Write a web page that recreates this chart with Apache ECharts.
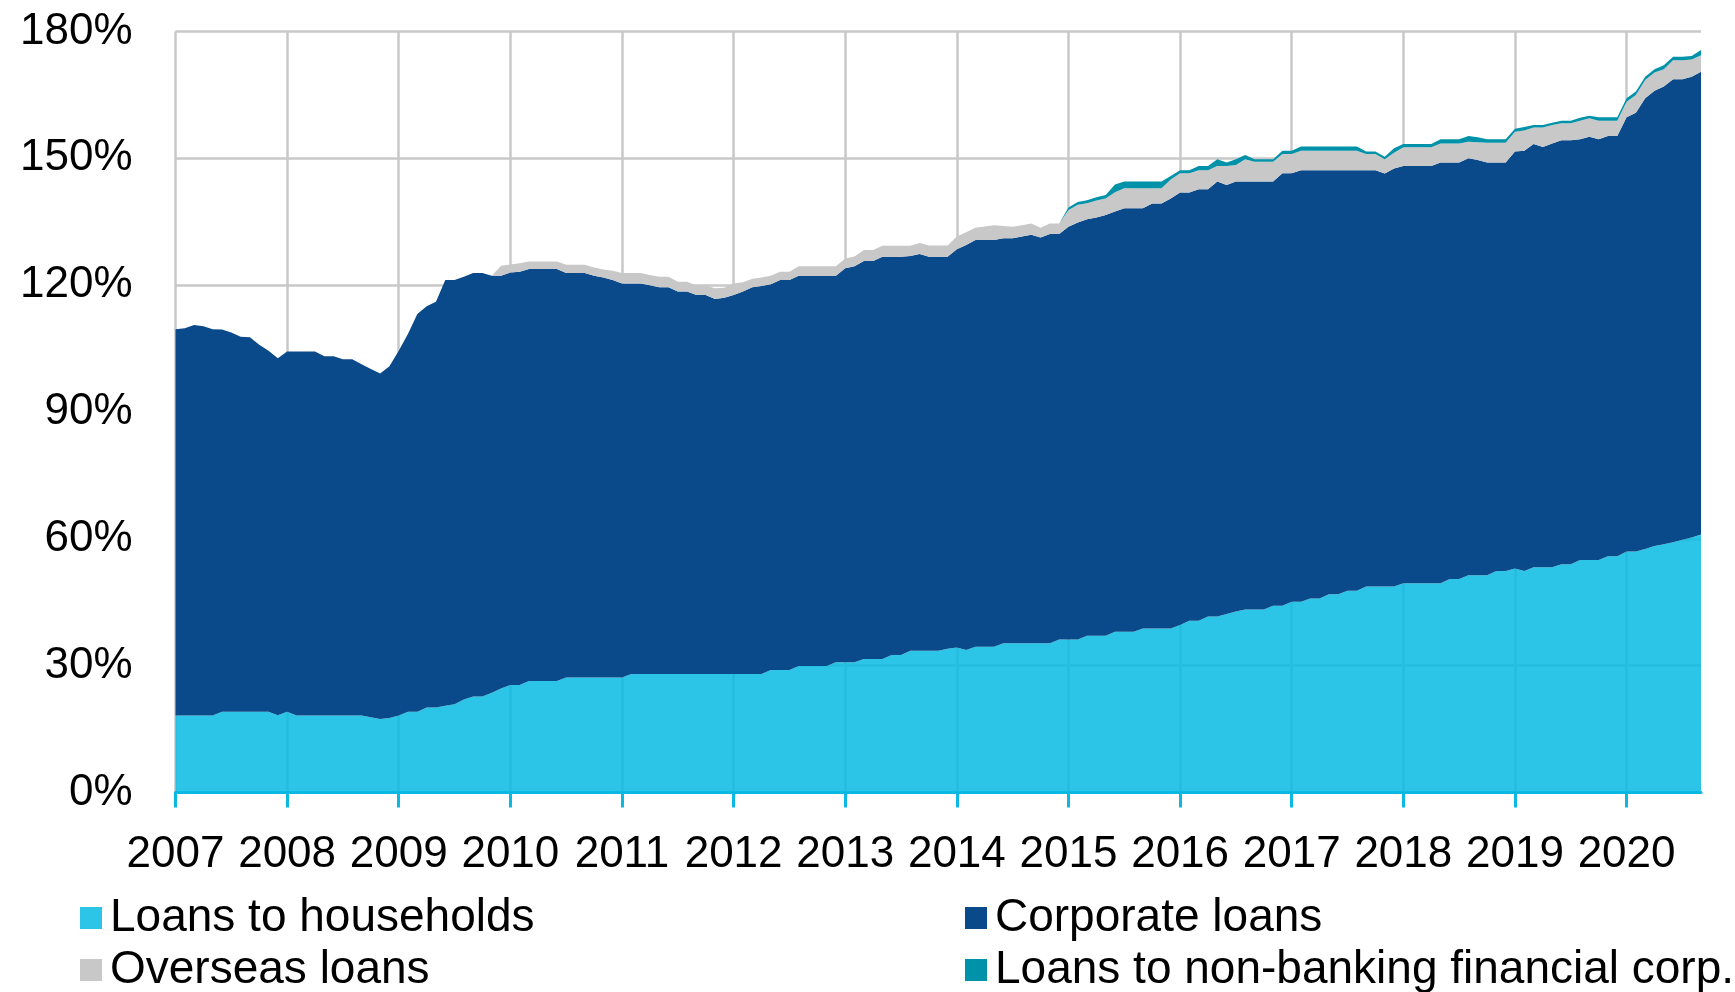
<!DOCTYPE html>
<html>
<head>
<meta charset="utf-8">
<title>Loans</title>
<script src="https://cdn.jsdelivr.net/npm/echarts/dist/echarts.min.js"></script>
<style>
  html, body { margin: 0; padding: 0; background: #fff; }
  #main { width: 1735px; height: 992px; }
</style>
</head>
<body>
<div id="main"></div>
<script>
// monthly values, Jan 2007 - Sep 2020, % of ...
const yearLabels = ['2007', '2008', '2009', '2010', '2011', '2012', '2013', '2014', '2015', '2016', '2017', '2018', '2019', '2020'];
const seriesNames = ['Loans to households', 'Corporate loans', 'Overseas loans', 'Loans to non-banking financial corp.'];

const households = [
  18.2, 18.2, 18.2, 18.2, 18.2, 19.1, 19.1, 19.1, 19.1, 19.1, 19.1, 18.3,
  19.1, 18.2, 18.2, 18.2, 18.2, 18.2, 18.2, 18.2, 18.2, 17.8, 17.4, 17.6,
  18.2, 19.1, 19.1, 20.1, 20.1, 20.5, 20.9, 22.0, 22.7, 22.7, 23.6, 24.6,
  25.4, 25.4, 26.4, 26.4, 26.4, 26.4, 27.2, 27.2, 27.2, 27.2, 27.2, 27.2,
  27.2, 28.0, 28.0, 28.0, 28.0, 28.0, 28.0, 28.0, 28.0, 28.0, 28.0, 28.0,
  28.0, 28.0, 28.0, 28.0, 29.0, 29.0, 29.0, 29.9, 29.9, 29.9, 29.9, 30.8,
  30.8, 30.8, 31.6, 31.6, 31.6, 32.5, 32.5, 33.5, 33.5, 33.5, 33.5, 34.0,
  34.3, 33.7, 34.5, 34.5, 34.5, 35.3, 35.3, 35.3, 35.3, 35.3, 35.3, 36.2,
  36.2, 36.2, 37.1, 37.1, 37.1, 38.0, 38.0, 38.0, 38.8, 38.8, 38.8, 38.8,
  39.6, 40.6, 40.6, 41.6, 41.6, 42.2, 42.8, 43.3, 43.3, 43.3, 44.2, 44.2,
  45.1, 45.1, 45.9, 45.9, 46.9, 46.9, 47.7, 47.7, 48.7, 48.7, 48.7, 48.7,
  49.5, 49.5, 49.5, 49.5, 49.5, 50.5, 50.5, 51.4, 51.4, 51.4, 52.4, 52.4,
  53.0, 52.4, 53.3, 53.3, 53.3, 54.0, 54.0, 55.0, 55.0, 55.0, 55.9, 55.9,
  57.0, 57.0, 57.6, 58.3, 58.7, 59.2, 59.8, 60.3, 61.0
];

const corporate = [
  91.4, 91.6, 92.4, 92.1, 91.4, 90.4, 89.7, 88.7, 88.6, 86.8, 85.4, 84.4,
  85.2, 86.1, 86.1, 86.1, 85.0, 85.0, 84.3, 84.3, 83.1, 82.4, 81.7, 83.2,
  86.3, 89.4, 94.1, 94.9, 96.0, 100.7, 100.3, 100.0, 100.2, 100.2, 98.6, 97.6,
  97.6, 97.8, 97.4, 97.4, 97.4, 97.4, 95.7, 95.7, 95.7, 95.0, 94.6, 94.0,
  93.2, 92.4, 92.4, 92.0, 91.5, 91.5, 90.5, 90.5, 89.7, 89.7, 88.7, 89.0,
  89.7, 90.5, 91.5, 91.8, 91.2, 92.2, 92.2, 92.3, 92.3, 92.3, 92.3, 91.4,
  93.2, 93.7, 94.1, 94.1, 95.1, 94.2, 94.2, 93.4, 93.9, 93.2, 93.2, 92.7,
  94.2, 95.8, 96.2, 96.2, 96.2, 95.8, 95.8, 96.2, 96.6, 96.0, 96.8, 95.9,
  97.6, 98.6, 98.5, 98.9, 99.5, 99.4, 100.2, 100.2, 99.4, 100.5, 100.5, 101.7,
  102.3, 101.3, 102.1, 101.1, 102.9, 101.5, 101.7, 101.2, 101.2, 101.2, 100.3, 102.3,
  101.4, 102.1, 101.3, 101.3, 100.3, 100.3, 99.5, 99.5, 98.5, 98.5, 97.7, 98.9,
  98.7, 98.7, 98.7, 98.7, 99.5, 98.5, 98.5, 98.6, 98.2, 97.6, 96.6, 96.6,
  98.6, 99.4, 100.1, 99.4, 100.2, 100.3, 100.3, 99.5, 100.1, 99.5, 99.4, 99.4,
  102.7, 103.8, 106.6, 107.7, 108.3, 109.5, 108.9, 109.0, 109.5
];

const overseas = [
  0, 0, 0, 0, 0, 0, 0, 0, 0, 0, 0, 0,
  0, 0, 0, 0, 0, 0, 0, 0, 0, 0, 0, 0,
  0, 0, 0, 0, 0, 0, 0, 0, 0, 0, 0, 2.4,
  1.9, 2.0, 1.8, 1.8, 1.8, 1.8, 1.9, 1.9, 1.9, 2.0, 1.9, 2.2,
  2.5, 2.5, 2.5, 2.4, 2.5, 2.5, 2.3, 2.3, 2.2, 2.2, 2.6, 2.4,
  2.7, 2.2, 2.0, 2.0, 2.0, 2.0, 2.0, 2.3, 2.3, 2.3, 2.3, 2.3,
  2.3, 2.3, 2.6, 2.6, 2.6, 2.6, 2.6, 2.4, 2.6, 2.7, 2.7, 2.7,
  3.0, 3.0, 2.9, 3.2, 3.5, 2.9, 2.7, 2.7, 2.7, 2.3, 2.5, 2.5,
  4.0, 4.2, 3.8, 4.0, 3.9, 4.6, 4.7, 4.7, 4.7, 3.6, 3.6, 4.5,
  4.6, 4.6, 4.5, 4.5, 3.7, 4.5, 3.9, 5.3, 4.7, 4.7, 4.7, 4.5,
  4.5, 4.6, 4.6, 4.6, 4.6, 4.6, 4.6, 4.6, 3.8, 3.8, 3.4, 3.7,
  4.4, 4.4, 4.4, 4.4, 4.5, 4.5, 4.5, 3.9, 4.2, 4.7, 4.7, 4.7,
  4.7, 4.8, 3.9, 4.6, 4.4, 4.0, 4.0, 4.4, 4.4, 4.4, 3.6, 3.6,
  3.7, 4.2, 4.3, 4.3, 4.1, 4.5, 4.5, 4.1, 3.9
];

const nonBanking = [
  0, 0, 0, 0, 0, 0, 0, 0, 0, 0, 0, 0,
  0, 0, 0, 0, 0, 0, 0, 0, 0, 0, 0, 0,
  0, 0, 0, 0, 0, 0, 0, 0, 0, 0, 0, 0,
  0, 0, 0, 0, 0, 0, 0, 0, 0, 0, 0, 0,
  0, 0, 0, 0, 0, 0, 0, 0, 0, 0, 0, 0,
  0, 0, 0, 0, 0, 0, 0, 0, 0, 0, 0, 0,
  0, 0, 0, 0, 0, 0, 0, 0, 0, 0, 0, 0,
  0, 0, 0, 0, 0, 0, 0, 0, 0, 0, 0, 0,
  0.6, 0.7, 0.7, 0.8, 0.8, 1.8, 1.6, 1.6, 1.6, 1.6, 1.6, 0.8,
  0.7, 0.7, 1.0, 1.0, 1.6, 0.8, 1.4, 1.0, 0.6, 0.6, 0.6, 0.8,
  0.8, 1.0, 1.0, 1.0, 1.0, 1.0, 1.0, 1.0, 0.6, 0.6, 0.6, 1.1,
  0.8, 0.8, 0.8, 0.8, 1.0, 1.0, 1.0, 1.4, 1.2, 0.8, 0.8, 0.8,
  0.7, 0.8, 0.6, 0.6, 0.5, 0.6, 0.6, 0.7, 0.6, 0.8, 0.8, 0.8,
  0.8, 0.8, 0.8, 0.8, 0.9, 0.8, 0.8, 0.8, 1.2
];

// month categories, one per data point
const months = [];
yearLabels.forEach(function (y) {
  for (let i = 1; i <= 12; i++) months.push(y + '-' + i);
});
months.length = households.length;

const font = '"Liberation Sans", Arial, sans-serif';
const isYearStart = function (idx) { return idx % 12 === 0; };

const chartInstance = echarts.init(document.getElementById('main'));

function legendItem(name, left, top) {
  return {
    data: [name],
    left: left,
    top: top,
    padding: 0,
    icon: 'rect',
    itemWidth: 22,
    itemHeight: 22,
    selectedMode: false,
    textStyle: {
      color: '#000',
      fontSize: 46,
      fontFamily: font,
      lineHeight: 50,
      padding: [0, 0, 0, 3]
    }
  };
}

function areaSeries(name, data, color, fill) {
  return {
    name: name,
    type: 'line',
    stack: 'total',
    data: data,
    symbol: 'none',
    showSymbol: false,
    color: color,
    lineStyle: { width: 0 },
    areaStyle: { color: fill || color, opacity: 1 },
    emphasis: { disabled: true },
    animation: false
  };
}

const option = {
  backgroundColor: '#fff',
  animation: false,
  grid: {
    left: 175.5,
    right: 34,
    top: 31.5,
    bottom: 199.5
  },
  xAxis: {
    type: 'category',
    data: months,
    boundaryGap: false,
    axisLine: { lineStyle: { color: '#0ab8e2', width: 3 } },
    axisTick: {
      interval: isYearStart,
      length: 15,
      lineStyle: { color: '#0ab8e2', width: 3 }
    },
    axisLabel: {
      interval: isYearStart,
      margin: 40,
      color: '#000',
      fontSize: 44,
      fontFamily: font,
      formatter: function (v) { return v.slice(0, 4); }
    },
    splitLine: {
      show: true,
      interval: isYearStart,
      lineStyle: { color: '#c8c8c8', width: 2.5 }
    }
  },
  yAxis: {
    type: 'value',
    min: 0,
    max: 180,
    interval: 30,
    axisLine: { show: false },
    axisTick: { show: false },
    axisLabel: {
      margin: 43,
      color: '#000',
      fontSize: 44,
      fontFamily: font,
      formatter: '{value}%'
    },
    splitLine: { lineStyle: { color: '#c8c8c8', width: 2.5 } }
  },
  legend: [
    legendItem(seriesNames[0], 80, 893),
    legendItem(seriesNames[1], 965, 893),
    legendItem(seriesNames[2], 80, 945),
    legendItem(seriesNames[3], 965, 945)
  ],
  series: [
    areaSeries(seriesNames[0], households, '#2cc5e7', 'rgba(7,187,227,0.85)'),
    areaSeries(seriesNames[1], corporate, '#0b4a8a'),
    areaSeries(seriesNames[2], overseas, '#c8c8c8'),
    areaSeries(seriesNames[3], nonBanking, '#0092a8')
  ]
};

chartInstance.setOption(option);
</script>
</body>
</html>
